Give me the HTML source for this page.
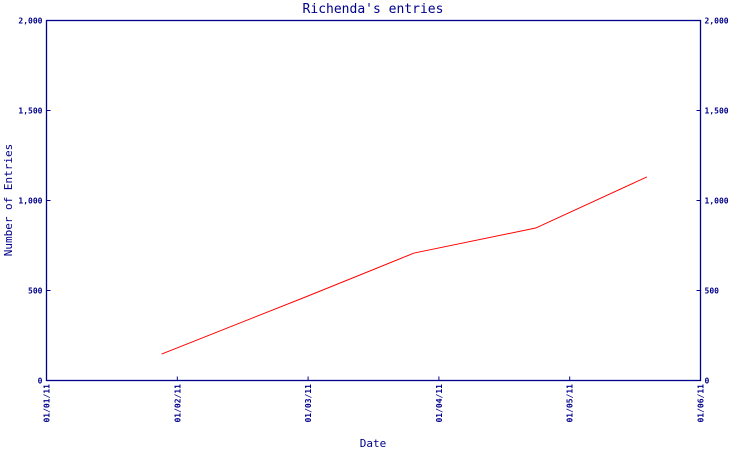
<!DOCTYPE html>
<html><head><meta charset="utf-8"><style>
body{margin:0;background:#fff;}
svg{display:block;font-family:"DejaVu Sans Mono","Liberation Mono",monospace;}
</style></head><body>
<svg id="chart" width="750" height="450" viewBox="0 0 750 450">
<text x="373" y="13" text-anchor="middle" font-size="13" fill="#00008b">Richenda's entries</text>
<text transform="translate(12,200) rotate(-90)" text-anchor="middle" font-size="11" fill="#00008b">Number of Entries</text>
<text x="373" y="447" text-anchor="middle" font-size="11" fill="#00008b">Date</text>
<g id="axes"></g>
<g id="marks"></g>
</svg>
<script>
const monthLabels=["01/01/11","01/02/11","01/03/11","01/04/11","01/05/11","01/06/11"];
const yTicks=[0,500,1000,1500,2000];
const yTickLabels=["0","500","1,000","1,500","2,000"];
const pointMonths=[0.88,1.98,2.81,3.74,4.59];
const entryValues=[147,464,708,847,1131];
const X0=46.5,X1=700.5,Y0=380.5,Y1=20.5;
const xs=m=>X0+m*(X1-X0)/(monthLabels.length-1);
const ys=v=>Y0-v*(Y0-Y1)/2000;
const NS="http://www.w3.org/2000/svg";
const axes=document.getElementById('axes'),marks=document.getElementById('marks');
function mk(t,a,p){const e=document.createElementNS(NS,t);for(const k in a)e.setAttribute(k,a[k]);p.appendChild(e);return e;}
const frame=mk('rect',{x:X0,y:Y1,width:X1-X0,height:Y0-Y1,fill:'none',stroke:'#00008b','stroke-width':1.3},axes);


yTicks.forEach((v,i)=>{
  const y=ys(v);
  mk('line',{x1:X0,x2:X0+4,y1:y,y2:y,stroke:'#00008b'},axes);
  mk('line',{x1:X1-4,x2:X1,y1:y,y2:y,stroke:'#00008b'},axes);
  const l=mk('text',{x:X0-4,y:y+3,'text-anchor':'end','font-size':8,'font-weight':'bold',fill:'#00008b'},axes);
  l.textContent=yTickLabels[i];
  
  
  const r=mk('text',{x:X1+4,y:y+3,'text-anchor':'start','font-size':8,'font-weight':'bold',fill:'#00008b'},axes);
  r.textContent=yTickLabels[i];
  
  
});
monthLabels.forEach((m,i)=>{
  const x=xs(i);
  mk('line',{x1:x,x2:x,y1:Y0,y2:Y0-4,stroke:'#00008b'},axes);
  const t=mk('text',{transform:`translate(${x+3},384) rotate(-90)`,'text-anchor':'end','font-size':8,'font-weight':'bold',fill:'#00008b'},axes);
  t.textContent=m;
  
  
});
const pts=pointMonths.map((m,i)=>xs(m)+','+ys(entryValues[i])).join(' ');
const line=mk('polyline',{points:pts,fill:'none',stroke:'#ff0000','stroke-width':1},marks);


</script>
</body></html>
